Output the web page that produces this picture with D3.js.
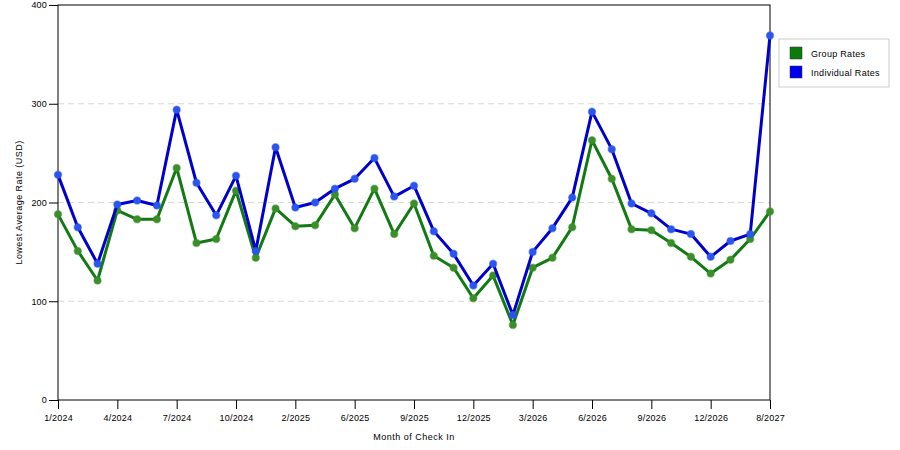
<!DOCTYPE html>
<html>
<head>
	<script src="https://d3js.org/d3.v7.min.js"></script>
	<title>Lowest Average Rate</title>
	<style>
		html, body { margin: 0; padding: 0; background: #fff; }
		svg { display: block; font-family: "Liberation Sans", Arial, sans-serif; }
		.axis text { font-size: 9px; fill: #000; letter-spacing: 0.2px; }
		.axis path, .axis line { stroke: #000; }
	</style>
</head>
<body>
	<svg width="900" height="450"></svg>
	<script>
		// months shown along the x axis (only every third one is labelled)
		const months = ["1/2024", "2/2024", "3/2024", "4/2024", "5/2024", "6/2024", "7/2024", "8/2024", "9/2024",
			"10/2024", "11/2024", "12/2024", "2/2025", "3/2025", "4/2025", "6/2025", "7/2025", "8/2025",
			"9/2025", "10/2025", "11/2025", "12/2025", "1/2026", "2/2026", "3/2026", "4/2026", "5/2026",
			"6/2026", "7/2026", "8/2026", "9/2026", "10/2026", "11/2026", "12/2026", "1/2027", "2/2027", "8/2027"];

		const groupRates = [188, 151, 121, 192, 183, 183, 235, 159, 163, 212, 144, 194, 176, 177, 208, 174,
			214, 168, 199, 146, 134, 103, 126, 76, 134, 144, 175, 263, 224, 173, 172, 159, 145, 128, 142, 163, 191];

		const individualRates = [228, 175, 138, 198, 202, 197, 294, 220, 187, 227, 151, 256, 195, 200, 214, 224,
			245, 206, 217, 171, 148, 116, 138, 86, 150, 174, 205, 292, 254, 199, 189, 173, 168, 145, 161, 168, 369];

		const yTicks = [0, 100, 200, 300, 400];

		const series = [
			{ name: "Group Rates", values: groupRates, line: "#127a12", dot: "#3a8f2a", swatch: "#0a7a0a" },
			{ name: "Individual Rates", values: individualRates, line: "#0000cc", dot: "#2a55ee", swatch: "#0000ee" }
		];

		const svg = d3.select("svg");
		const plotL = 58, plotR = 770, plotT = 5, plotB = 400;

		const x = d3.scalePoint().domain(months).range([plotL, plotR]);
		const y = d3.scaleLinear().domain([0, 400]).range([plotB, plotT]);

		// dashed grid lines
		svg.append("g")
			.selectAll("line")
			.data(yTicks.filter(d => d > 0 && d < 400))
			.enter()
			.append("line")
			.attr("x1", plotL).attr("x2", plotR)
			.attr("y1", d => y(d)).attr("y2", d => y(d))
			.attr("stroke", "#d8d8d8")
			.attr("stroke-dasharray", "6,4");

		// frame
		svg.append("rect")
			.attr("x", plotL).attr("y", plotT)
			.attr("width", plotR - plotL).attr("height", plotB - plotT)
			.attr("fill", "none").attr("stroke", "#000");

		svg.append("g")
			.attr("class", "axis")
			.attr("transform", "translate(" + plotL + ",0)")
			.call(d3.axisLeft(y).tickValues(yTicks).tickSize(9).tickPadding(2))
			.call(g => g.select(".domain").remove());

		svg.append("g")
			.attr("class", "axis")
			.attr("transform", "translate(0," + plotB + ")")
			.call(d3.axisBottom(x).tickValues(months.filter((m, i) => i % 3 === 0)).tickSize(9).tickPadding(6))
			.call(g => g.select(".domain").remove());

		// axis titles
		svg.append("text")
			.attr("x", (plotL + plotR) / 2).attr("y", 440)
			.attr("text-anchor", "middle")
			.attr("font-size", 9)
			.attr("letter-spacing", "0.5px")
			.text("Month of Check In");

		svg.append("text")
			.attr("transform", "translate(22," + ((plotT + plotB) / 2) + ") rotate(-90)")
			.attr("text-anchor", "middle")
			.attr("font-size", 9)
			.attr("letter-spacing", "0.45px")
			.text("Lowest Average Rate (USD)");

		const line = d3.line()
			.x((d, i) => x(months[i]))
			.y(d => y(d));

		series.forEach(s => {
			svg.append("path")
				.datum(s.values)
				.attr("fill", "none")
				.attr("stroke", s.line)
				.attr("stroke-width", 3)
				.attr("stroke-linejoin", "round")
				.attr("d", line);

			svg.append("g")
				.selectAll("circle")
				.data(s.values)
				.enter()
				.append("circle")
				.attr("cx", (d, i) => x(months[i]))
				.attr("cy", d => y(d))
				.attr("r", 3.5)
				.attr("fill", s.dot)
				.attr("stroke", s.dot)
				.attr("stroke-opacity", 0.5)
				.attr("stroke-width", 1.5);
		});

		// legend
		const legend = svg.append("g").attr("transform", "translate(779,39)");
		legend.append("rect")
			.attr("width", 110).attr("height", 48)
			.attr("fill", "#fff").attr("stroke", "#cccccc");

		series.forEach((s, i) => {
			legend.append("rect")
				.attr("x", 11).attr("y", 8 + i * 19)
				.attr("width", 12).attr("height", 12)
				.attr("fill", s.swatch).attr("stroke", "#333").attr("stroke-width", 0.5);
			legend.append("text")
				.attr("x", 32).attr("y", 18 + i * 19)
				.attr("font-size", 9)
				.attr("letter-spacing", "0.3px")
				.text(s.name);
		});
	</script>
</body>
</html>
